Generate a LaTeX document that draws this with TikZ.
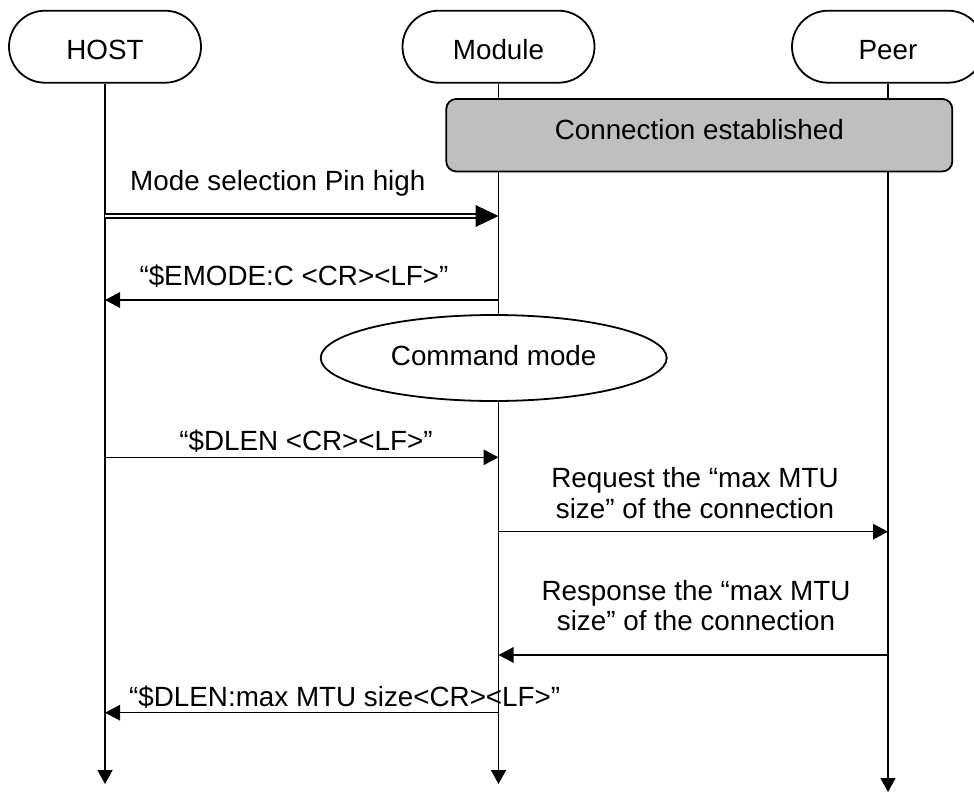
\documentclass[tikz,border=0pt]{standalone}
\usepackage{fontspec}
\setmainfont{Liberation Sans}
\usetikzlibrary{arrows.meta,shapes.geometric,backgrounds}

\begin{document}
\begin{tikzpicture}[x=1pt,y=-1pt,
  txt/.style={font=\fontsize{27.8}{30.7}\selectfont, inner sep=0pt},
  actor/.style={txt, draw, line width=1.8pt, fill=white,
    minimum width=192pt, minimum height=72pt, rounded corners=36pt,
    text height=24.6pt, text depth=0pt},
  phase/.style={txt, draw, line width=1.8pt, fill=black!25,
    minimum width=506pt, minimum height=72.5pt, rounded corners=10pt,
    text height=8.6pt, text depth=0pt},
  state/.style={txt, ellipse, draw, line width=1.8pt, fill=white,
    minimum width=346pt, minimum height=86pt,
    text height=14pt, text depth=0pt},
  life/.style={line width=1.6pt, -{Triangle[length=14pt,width=15pt]}},
  msg/.style={line width=1.4pt, -{Triangle[length=15pt,width=15.5pt]}},
  pin/.style={line width=1.6pt, double=white, double distance=2.5pt, shorten >=20pt},
]
\clip (0,0) rectangle (974,793);

% participants
\node[actor] (host)   at (105,46.7)   {HOST};
\node[actor] (module) at (498.5,46.7) {Module};
\node[actor] (peer)   at (888,46.7)   {Peer};

% lifeline ends
\coordinate (hostEnd)   at (105,784);
\coordinate (moduleEnd) at (498.5,784);
\coordinate (peerEnd)   at (888,792);

% connection phase and mode state
\node[phase] (conn) at (699.3,135.2) {Connection established};
\node[state] (cmd)  at (493.7,358)   {Command mode};

\begin{scope}[on background layer]
  \draw[life] (host.south)   -- (hostEnd);
  \draw[life] (module.south) -- (moduleEnd);
  \draw[life] (peer.south)   -- (peerEnd);
\end{scope}

% mode selection pin
\coordinate (h1) at (105,216);
\coordinate (m1) at (498.5,216);
\node[txt, anchor=base west] (pinlbl) at (130,190) {Mode selection Pin high};
\draw[pin] (h1) -- (m1);
\fill (m1) -- ++(-23,-11) -- ++(0,22) -- cycle;

% $EMODE response
\coordinate (h2) at (105,300);
\coordinate (m2) at (498.5,300);
\node[txt, anchor=base] (emode) at (294,285) {“\$EMODE:C <CR><LF>”};
\draw[msg] (m2) -- (h2);

% $DLEN request
\coordinate (h3) at (105,457.3);
\coordinate (m3) at (498.5,457.3);
\node[txt, anchor=base] (dlen) at (306,450) {“\$DLEN <CR><LF>”};
\draw[msg] (h3) -- (m3);

% MTU request to peer
\coordinate (m4) at (498.5,531.7);
\coordinate (p4) at (888,531.7);
\node[txt, anchor=base, align=center] (req) at (695,518.3) {Request the “max MTU\\size” of the connection};
\draw[msg] (m4) -- (p4);

% MTU response from peer
\coordinate (m5) at (498.5,655);
\coordinate (p5) at (888,655);
\node[txt, anchor=base, align=center] (rsp) at (696,630.7) {Response the “max MTU\\size” of the connection};
\draw[msg] (p5) -- (m5);

% $DLEN result to host
\coordinate (h6) at (105,712.7);
\coordinate (m6) at (498.5,712.7);
\node[txt, anchor=base west] (dlenres) at (129,706) {“\$DLEN:max MTU size<CR><LF>”};
\draw[msg] (m6) -- (h6);
\end{tikzpicture}
\end{document}
